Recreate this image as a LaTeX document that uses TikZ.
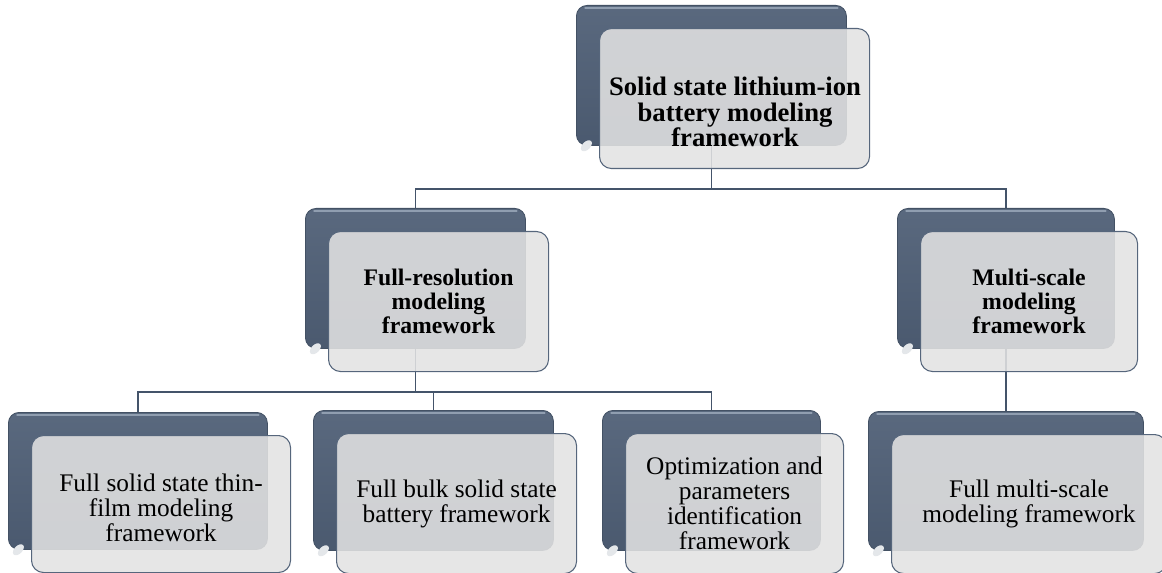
\documentclass[tikz,border=0pt]{standalone}
\usepackage{fontspec}
\setmainfont{Liberation Serif}
\definecolor{backc}{HTML}{4F5F76}
\definecolor{backhi}{HTML}{909EB0}
\definecolor{frontc}{HTML}{E2E2E2}
\definecolor{edgec}{HTML}{56667C}
\definecolor{linec}{HTML}{44546A}
\pgfdeclarelayer{bg}
\pgfsetlayers{bg,main}
\tikzset{
  backbox/.style={draw=backc!85!black, line width=0.6pt, top color=backc!94!white, middle color=backc, bottom color=backc!94!black, rounded corners=8pt, inner sep=0pt, anchor=north west},
  frontbox/.style={draw=edgec, line width=0.8pt, fill=frontc, fill opacity=0.88, rounded corners=9pt, inner sep=0pt, anchor=north west},
  conn/.style={draw=linec, line width=1.2pt},
  regtext/.style={align=center, font=\fontsize{19pt}{18.75pt}\selectfont, inner sep=0pt},
  boldtext/.style={align=center, font=\fontsize{17.8pt}{18pt}\selectfont\bfseries, inner sep=0pt},
  toptext/.style={align=center, font=\fontsize{20pt}{19pt}\selectfont\bfseries, inner sep=0pt},
}
% name, x, y, width, height (px)
\newcommand\tierpair[5]{%
  \node[backbox, minimum width=#4*0.75pt, minimum height=#5*0.75pt] (#1b) at (#2,#3) {};
  \draw[backhi, line width=1.8pt, line cap=round] ([xshift=7pt,yshift=-2.4pt]#1b.north west) -- ([xshift=-7pt,yshift=-2.4pt]#1b.north east);
  \fill[white!85!backc, rotate around={-45:([xshift=5.5pt,yshift=5.5pt]#1b.south west)}] ([xshift=5.5pt,yshift=5.5pt]#1b.south west) ellipse (3pt and 5pt);
  \node[frontbox, minimum width=#4*0.75pt, minimum height=#5*0.75pt] (#1f) at (#2+23,#3+23) {};
}
\begin{document}
\begin{tikzpicture}[x=0.75pt,y=-0.75pt]
\useasboundingbox (0,0) rectangle (1162,573);

\tierpair{top}{576}{5}{270}{140}
\tierpair{midL}{305}{208}{220}{140}
\tierpair{midR}{897}{208}{217}{140}
\tierpair{botL}{8}{412}{259}{137}
\tierpair{botM}{313}{410}{240}{140}
\tierpair{botT}{602}{410}{218}{140}
\tierpair{botR}{868}{411}{275}{139}

\node[toptext] (topt) at (735,112) {Solid state lithium-ion\\battery modeling\\framework};
\node[boldtext] (midLt) at (midLf.center) {Full-resolution\\modeling\\framework};
\node[boldtext] (midRt) at (midRf.center) {Multi-scale\\modeling\\framework};
\node[regtext] (botLt) at ([yshift=-2.5pt]botLf.center) {Full solid state thin-\\film modeling\\framework};
\node[regtext] (botMt) at (botMf.center) {Full bulk solid state\\battery framework};
\node[regtext] (botTt) at (botTf.center) {Optimization and\\parameters\\identification\\framework};
\node[regtext] (botRt) at (botRf.center) {Full multi-scale\\modeling framework};

\begin{pgfonlayer}{bg}
  \draw[conn] (topb.south) -- ++(0,43) -| (midLb.north);
  \draw[conn] (topb.south) ++(0,43) -| (midRb.north);
  \draw[conn] (midLb.south) -- ++(0,43) -| (botLb.north);
  \draw[conn] (midLb.south) ++(0,43) -| (botMb.north);
  \draw[conn] (midLb.south) ++(0,43) -| (botTb.north);
  \draw[conn] (midRb.south) -- (botRb.north);
\end{pgfonlayer}
\end{tikzpicture}
\end{document}
